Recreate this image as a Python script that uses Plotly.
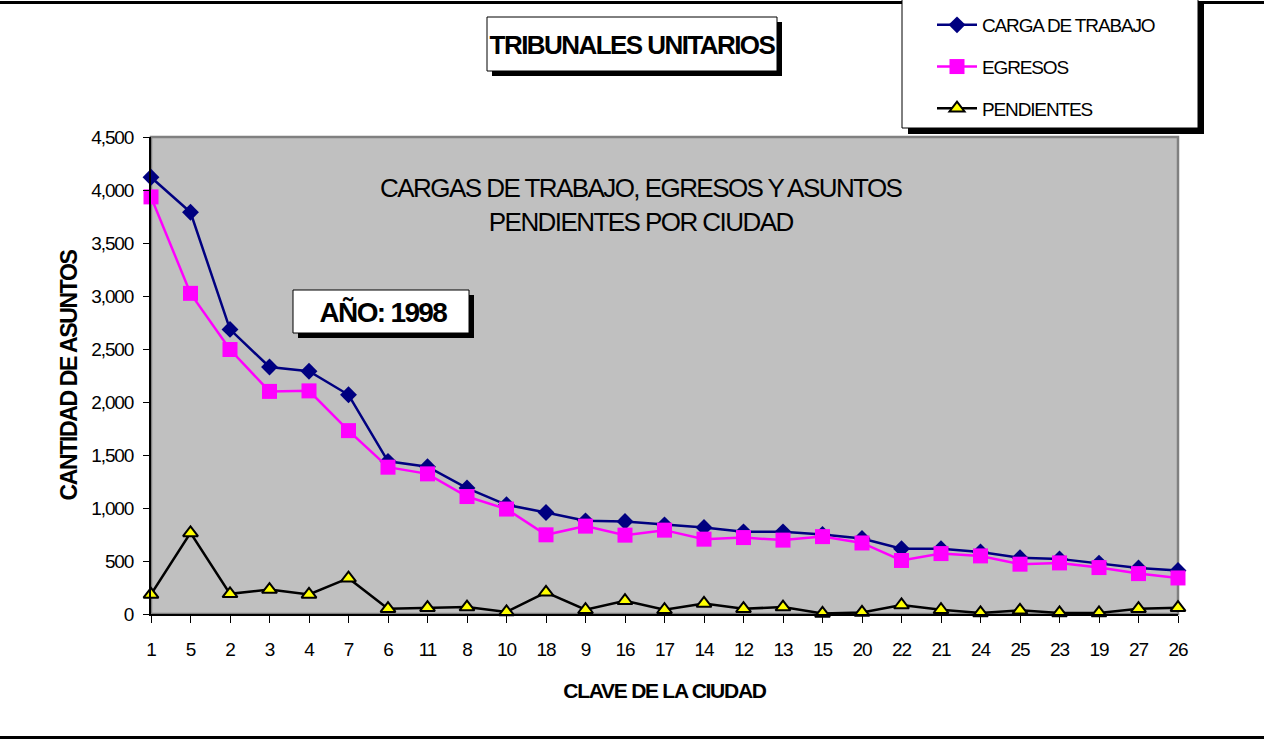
import plotly.graph_objects as go

# ---------------- data ----------------
ciudades = ["1", "5", "2", "3", "4", "7", "6", "11", "8", "10", "18", "9", "16", "17",
            "14", "12", "13", "15", "20", "22", "21", "24", "25", "23", "19", "27", "26"]
carga = [4120, 3790, 2685, 2330, 2290, 2068, 1440, 1390, 1188, 1030, 958, 879, 873, 841,
         816, 775, 775, 750, 712, 615, 615, 585, 530, 520, 480, 435, 410]
egresos = [3935, 3025, 2495, 2100, 2105, 1730, 1385, 1322, 1108, 990, 747, 829, 744, 791,
           706, 721, 697, 730, 670, 505, 570, 548, 470, 482, 438, 381, 340]
pendientes = [185, 765, 190, 230, 185, 338, 50, 60, 65, 20, 205, 40, 125, 40,
              100, 50, 65, 5, 15, 85, 40, 10, 35, 10, 10, 50, 60]
y_ticks = [0, 500, 1000, 1500, 2000, 2500, 3000, 3500, 4000, 4500]

# ---------------- layout constants ----------------
W, H = 1264, 740
L, R, T, B = 151, 1178, 137, 614
FONT = "Liberation Sans, Arial, sans-serif"


def px(x):
    return (x - L) / (R - L)


def py(y):
    return (B - y) / (B - T)


fig = go.Figure()
fig.add_trace(go.Scatter(
    x=ciudades, y=carga, name="CARGA DE TRABAJO", mode="lines+markers",
    line=dict(color="#000080", width=2.5),
    marker=dict(symbol="diamond", size=13, color="#000080"),
    cliponaxis=False, legendgroup="a"))
fig.add_trace(go.Scatter(
    x=ciudades, y=egresos, name="EGRESOS", mode="lines+markers",
    line=dict(color="#FF00FF", width=2.5),
    marker=dict(symbol="square", size=15, color="#FF00FF"),
    cliponaxis=False, legendgroup="b"))
fig.add_trace(go.Scatter(
    x=ciudades, y=pendientes, name="PENDIENTES", mode="lines+markers",
    line=dict(color="#000000", width=2.5),
    marker=dict(symbol="triangle-up", size=13, color="#FFFF00",
                line=dict(color="#000000", width=2)),
    cliponaxis=False, legendgroup="c"))

shapes = []
# top / bottom rules
shapes.append(dict(type="line", xref="paper", yref="paper", x0=px(0), x1=px(W),
                   y0=py(2.5), y1=py(2.5), line=dict(color="black", width=3), layer="above"))
shapes.append(dict(type="line", xref="paper", yref="paper", x0=px(0), x1=px(W),
                   y0=py(737.5), y1=py(737.5), line=dict(color="black", width=3), layer="above"))
# plot border (grey)
shapes.append(dict(type="rect", xref="paper", yref="paper", x0=0, x1=1, y0=0, y1=1,
                   line=dict(color="#808080", width=2.5), layer="below"))


def box(x0, y0, x1, y1, off=5):
    return [
        dict(type="rect", xref="paper", yref="paper", x0=px(x0 + off), x1=px(x1 + off),
             y0=py(y0 + off), y1=py(y1 + off), fillcolor="black",
             line=dict(width=0), layer="above"),
        dict(type="rect", xref="paper", yref="paper", x0=px(x0), x1=px(x1),
             y0=py(y0), y1=py(y1), fillcolor="white",
             line=dict(color="black", width=1), layer="above"),
    ]


shapes += box(487, 17, 777, 71)
shapes += box(293, 290, 469, 333)
shapes += box(902, -2, 1198, 128, off=6)

annotations = [
    dict(text="<b>TRIBUNALES UNITARIOS</b>", xref="paper", yref="paper",
         x=px(632), y=py(45), showarrow=False, font=dict(family=FONT, size=26, color="black"),
         xanchor="center", yanchor="middle"),
    dict(text="<b>AÑO: 1998</b>", xref="paper", yref="paper",
         x=px(383), y=py(312), showarrow=False, font=dict(family=FONT, size=28, color="black"),
         xanchor="center", yanchor="middle"),
    dict(text="CARGAS DE TRABAJO, EGRESOS Y ASUNTOS<br>PENDIENTES POR CIUDAD",
         xref="paper", yref="paper", x=px(640), y=py(205), showarrow=False,
         font=dict(family=FONT, size=26, color="black"), xanchor="center", yanchor="middle"),
]

fig.update_layout(
    width=W, height=H,
    margin=dict(l=L, r=W - R, t=T, b=H - B, pad=0, autoexpand=False),
    paper_bgcolor="white", plot_bgcolor="#C0C0C0",
    font=dict(family=FONT, size=19, color="black"),
    shapes=shapes, annotations=annotations,
    showlegend=True,
    legend=dict(x=px(932), y=py(6), xanchor="left", yanchor="top",
                bgcolor="rgba(0,0,0,0)", borderwidth=0,
                font=dict(family=FONT, size=19, color="black"),
                tracegroupgap=14, itemwidth=40),
    xaxis=dict(type="category", range=[0, len(ciudades) - 1], showgrid=False,
               showline=True, linecolor="black", linewidth=2,
               ticks="outside", ticklen=7, tickcolor="black", tickwidth=1,
               ticklabelstandoff=10, tickfont=dict(family=FONT, size=19),
               title=dict(text="<b>CLAVE DE LA CIUDAD</b>", standoff=25,
                          font=dict(family=FONT, size=21))),
    yaxis=dict(range=[0, 4500], tickvals=y_ticks, tickformat=",", showgrid=False,
               showline=True, linecolor="black", linewidth=2, zeroline=False,
               ticks="outside", ticklen=6, tickcolor="black", tickwidth=1,
               ticklabelstandoff=6, tickfont=dict(family=FONT, size=19),
               title=dict(text="<b>CANTIDAD DE ASUNTOS</b>", standoff=2,
                          font=dict(family=FONT, size=23))),
    # inner half of the crossing tick marks
    xaxis2=dict(overlaying="x", anchor="y", side="bottom", range=[0, len(ciudades) - 1],
                dtick=1, tick0=0, ticks="inside", ticklen=7, tickcolor="black", tickwidth=1,
                showticklabels=False, showgrid=False, showline=False, zeroline=False),
    yaxis2=dict(overlaying="y", anchor="x", side="left", range=[0, 4500],
                tickvals=y_ticks, ticks="inside", ticklen=6, tickcolor="black", tickwidth=1,
                showticklabels=False, showgrid=False, showline=False, zeroline=False),
)

css = ("html,body{margin:0;padding:0;overflow:hidden}"
       " .main-svg text{letter-spacing:-0.06em}")
post = ("var s=document.createElement('style');s.textContent=" + repr(css) +
        ";document.head.appendChild(s);")
fig.write_html("out.html", post_script=post, config={"displayModeBar": False})
